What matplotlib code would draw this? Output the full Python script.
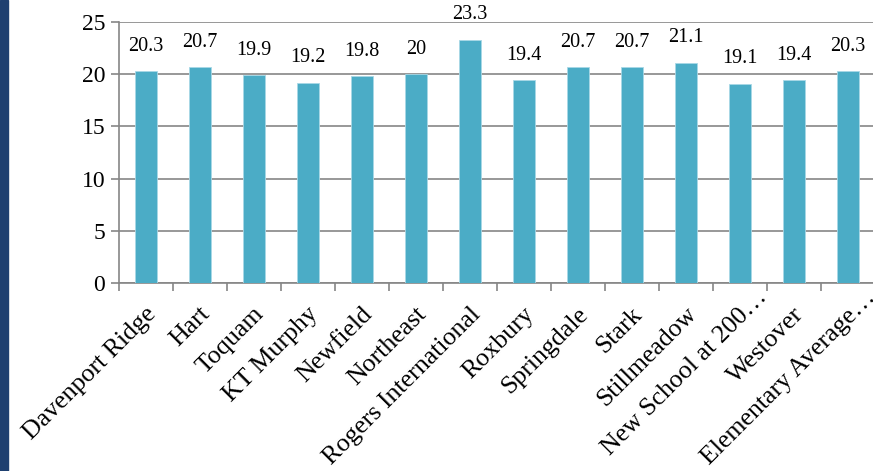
import matplotlib
matplotlib.use("Agg")
import matplotlib.pyplot as plt
from matplotlib.patches import Rectangle
from matplotlib.transforms import ScaledTranslation, blended_transform_factory

categories = ["Davenport Ridge", "Hart", "Toquam", "KT Murphy", "Newfield", "Northeast",
              "Rogers International", "Roxbury", "Springdale", "Stark", "Stillmeadow",
              "New School at 200\u2026", "Westover", "Elementary Average\u2026"]
values = [20.3, 20.7, 19.9, 19.2, 19.8, 20, 23.3, 19.4, 20.7, 20.7, 21.1, 19.1, 19.4, 20.3]
value_labels = ["20.3", "20.7", "19.9", "19.2", "19.8", "20", "23.3", "19.4", "20.7", "20.7",
                "21.1", "19.1", "19.4", "20.3"]
yticks = [0, 5, 10, 15, 20, 25]

plt.rcParams['font.family'] = ['Liberation Serif', 'DejaVu Serif']

fig = plt.figure(figsize=(8.73, 4.71), dpi=100)
fig.patches.append(Rectangle((0, 0), 8/873, 1, transform=fig.transFigure,
                             color="#1F4070", zorder=0))
ax = fig.add_axes([119/873, 1-283/471, 756/873, 261/471])

x = list(range(len(categories)))
bars = ax.bar(x, values, width=0.4, color="#4BACC6", edgecolor="#A8D8E6", linewidth=0.6, zorder=3)
for xi, v, lab in zip(x, values, value_labels):
    ax.annotate(lab, (xi, v), xytext=(0, 11), textcoords="offset points",
                ha="center", va="bottom", fontsize=14.5, color="black")

ax.set_xlim(-0.5, len(categories) - 0.5)
ax.set_ylim(0, 25)
ax.set_yticks(yticks)
ax.set_yticklabels([str(t) for t in yticks], fontsize=17)
ax.yaxis.grid(True, color="#868686", linewidth=1.2, zorder=0)
ax.set_axisbelow(True)

ax.set_xticks([i + 0.5 for i in range(-1, len(categories))])
ax.set_xticklabels([])
ax.tick_params(axis="x", which="major", length=6, width=1.2, color="#868686", direction="out")
ax.tick_params(axis="y", length=6, width=1.2, color="#868686", direction="out", pad=4)

base = blended_transform_factory(ax.transData, ax.transAxes)
for xi, lab in zip(x, categories):
    dx, dy = -1, -20
    if lab.endswith("\u2026"):
        dx, dy = dx + 17, dy + 17
    tr = base + ScaledTranslation(dx/100, dy/100, fig.dpi_scale_trans)
    ax.text(xi, 0, lab, transform=tr, rotation=45, ha="right", va="top",
            rotation_mode="anchor", fontsize=18.6, color="black", clip_on=False)

for s in ["top", "right"]:
    ax.spines[s].set_visible(False)
for s in ["left", "bottom"]:
    ax.spines[s].set_color("#868686")
    ax.spines[s].set_linewidth(1.2)

fig.savefig("out.png", dpi=100)
